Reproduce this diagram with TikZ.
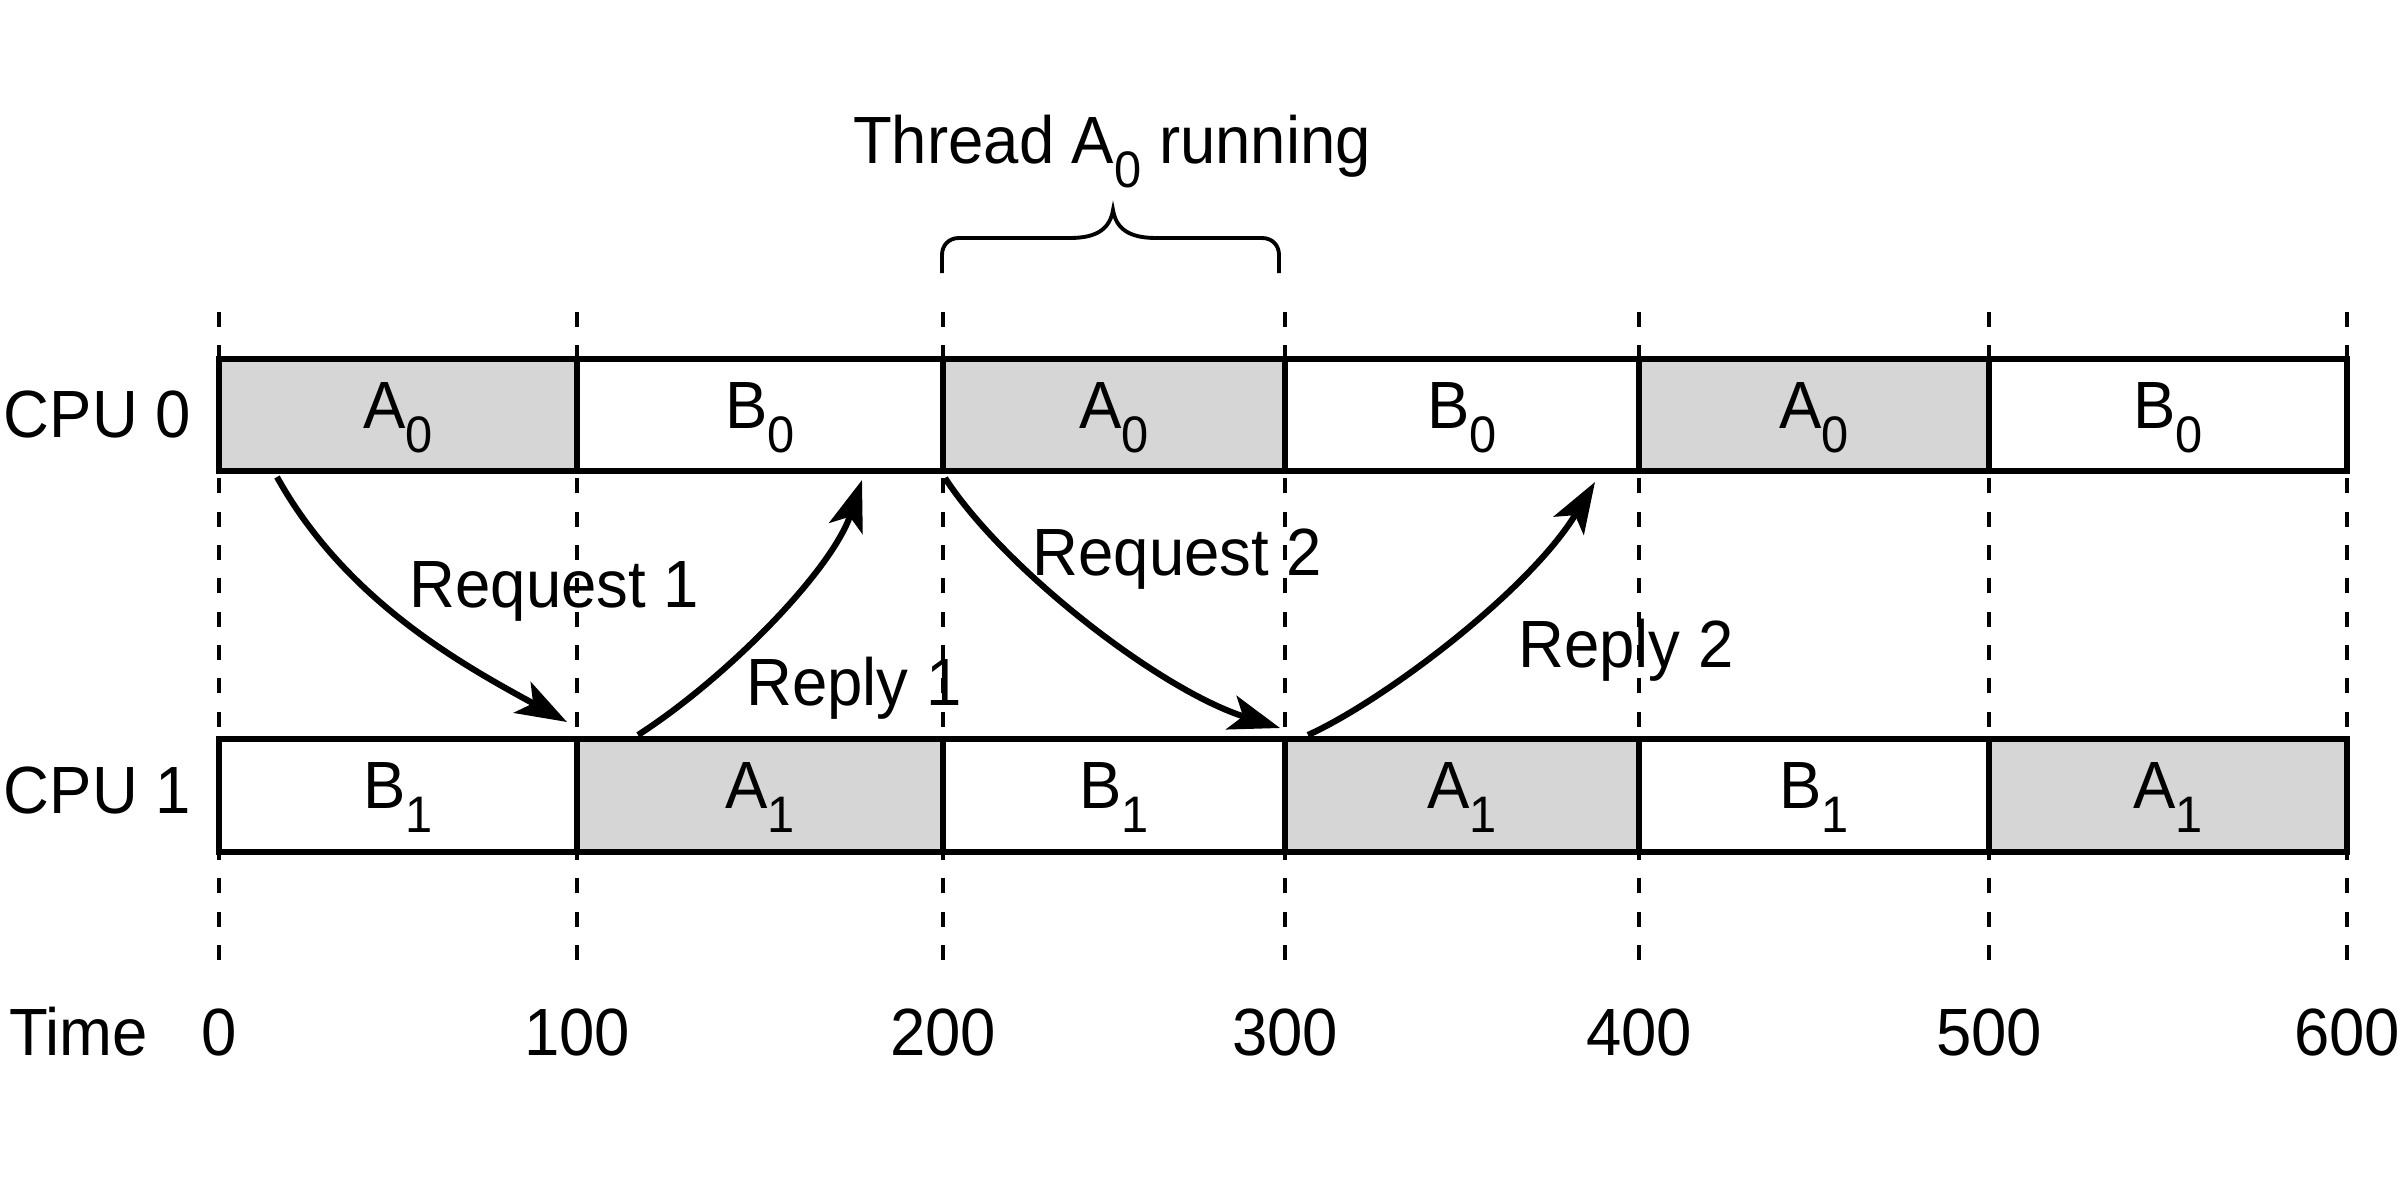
\documentclass[tikz,border=0pt]{standalone}
\usepackage{fontspec}
\setmainfont{Liberation Sans}[FakeStretch=0.95]
\usetikzlibrary{arrows.meta}
\definecolor{cellgray}{RGB}{214,214,214}
\newcommand{\sbx}[1]{\raisebox{-0.37em}{\fontsize{14.6pt}{15pt}\selectfont #1}}
\begin{document}
\begin{tikzpicture}[x=0.01cm,y=-0.01cm,
  txt/.style={font=\fontsize{19pt}{22pt}\selectfont, inner sep=0pt, outer sep=0pt},
  cell/.style={draw, line width=1.85pt, inner sep=0pt, outer sep=0pt, anchor=center},
  busy/.style={cell, fill=cellgray},
  idle/.style={cell, fill=white},
  guide/.style={line width=1.15pt, dash pattern=on 4.27pt off 5.21pt},
  msg/.style={line width=1.75pt, -{Stealth[length=14.5pt,width=10pt,inset=3.5pt]}},
  bracepath/.style={line width=1.1pt}
]
\useasboundingbox (0,0) rectangle (2408,1200);

% time guide lines
\foreach \xx in {219,577,943,1285,1639,1989,2347}{
  \draw[guide] (\xx,960) -- (\xx,311.7);
}

% CPU 0 row
\node[busy, minimum width=3.58cm, minimum height=1.12cm] (c00) at (398,415) {};
\node[idle, minimum width=3.66cm, minimum height=1.12cm] (c01) at (760,415) {};
\node[busy, minimum width=3.42cm, minimum height=1.12cm] (c02) at (1114,415) {};
\node[idle, minimum width=3.54cm, minimum height=1.12cm] (c03) at (1462,415) {};
\node[busy, minimum width=3.50cm, minimum height=1.12cm] (c04) at (1814,415) {};
\node[idle, minimum width=3.58cm, minimum height=1.12cm] (c05) at (2168,415) {};
% CPU 1 row
\node[idle, minimum width=3.58cm, minimum height=1.13cm] (c10) at (398,795.5) {};
\node[busy, minimum width=3.66cm, minimum height=1.13cm] (c11) at (760,795.5) {};
\node[idle, minimum width=3.42cm, minimum height=1.13cm] (c12) at (1114,795.5) {};
\node[busy, minimum width=3.54cm, minimum height=1.13cm] (c13) at (1462,795.5) {};
\node[idle, minimum width=3.50cm, minimum height=1.13cm] (c14) at (1814,795.5) {};
\node[busy, minimum width=3.58cm, minimum height=1.13cm] (c15) at (2168,795.5) {};

% cell labels
\foreach \i/\t in {0/A,1/B,2/A,3/B,4/A,5/B}{
  \node[txt, anchor=base] (l0\i) at ([yshift=-0.13cm]c0\i.center) {\t\sbx{0}};
}
\foreach \i/\t in {0/B,1/A,2/B,3/A,4/B,5/A}{
  \node[txt, anchor=base] (l1\i) at ([yshift=-0.125cm]c1\i.center) {\t\sbx{1}};
}

% row labels
\node[txt, anchor=base west] (cpu0) at (4,437) {CPU 0};
\node[txt, anchor=base west] (cpu1) at (4,813) {CPU 1};

% time axis
\node[txt, anchor=base west] (time) at (9,1055) {Time};
\foreach \xx/\v in {219/0,577/100,943/200,1285/300,1639/400,1989/500,2347/600}{
  \node[txt, anchor=base] (tick\v) at (\xx,1055) {\v};
}

% brace and title
\draw[bracepath] (942,273) -- (942,255) .. controls (942,245) and (949,238) .. (959,238)
  -- (1070,238) .. controls (1098,238) and (1110,228) .. (1113,210)
  .. controls (1116,228) and (1128,238) .. (1156,238)
  -- (1262,238) .. controls (1272,238) and (1279,245) .. (1279,255) -- (1279,273);
\node[txt, anchor=base] (title) at (1112,163) {Thread A\sbx{0} running};

% message endpoints
\coordinate (rq1s) at (277,477);
\coordinate (rq1e) at (567,722);
\coordinate (rp1s) at (638,735);
\coordinate (rp1e) at (862,480);
\coordinate (rq2s) at (945,478);
\coordinate (rq2e) at (1280,728);
\coordinate (rp2s) at (1308,735);
\coordinate (rp2e) at (1595,482);

\draw[msg] (rq1s) .. controls (347,603) and (467,667) .. (rq1e);
\draw[msg] (rp1s) .. controls (728,677) and (832,570) .. (rp1e);
\draw[msg] (rq2s) .. controls (1005,570) and (1160,690) .. (rq2e);
\draw[msg] (rp2s) .. controls (1385,700) and (1530,590) .. (rp2e);

\node[txt, anchor=base] (req1) at (554.5,607) {Request 1};
\node[txt, anchor=base] (rep1) at (854,705) {Reply 1};
\node[txt, anchor=base] (req2) at (1177.5,575) {Request 2};
\node[txt, anchor=base] (rep2) at (1626,667) {Reply 2};
\end{tikzpicture}
\end{document}
